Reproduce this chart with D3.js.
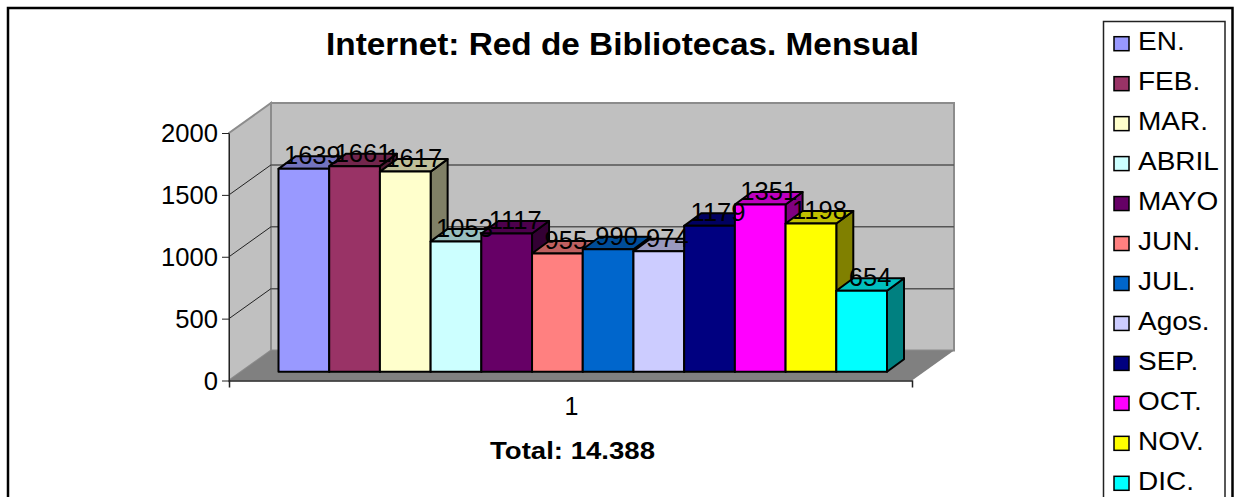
<!DOCTYPE html>
<html lang="en">
<head>
<meta charset="UTF-8">
<title>Internet: Red de Bibliotecas. Mensual</title>
<style>
  html, body { margin: 0; padding: 0; background: #fff; overflow: hidden; }
  svg { display: block; }
  text { font-family: "Liberation Sans", Arial, sans-serif; fill: #000; }
</style>
</head>
<body>
<svg width="1237" height="497"></svg>

<script src="https://d3js.org/d3.v7.min.js"></script>
<script>
  var months = ["EN.", "FEB.", "MAR.", "ABRIL", "MAYO", "JUN.", "JUL.", "Agos.", "SEP.", "OCT.", "NOV.", "DIC."];
  var visits = [1639, 1661, 1617, 1053, 1117, 955, 990, 974, 1179, 1351, 1198, 654];
  var colors = ["#9999ff", "#993366", "#ffffcc", "#ccffff", "#660066", "#ff8080", "#0066cc", "#ccccff", "#000080", "#ff00ff", "#ffff00", "#00ffff"];
  var yTicks = [0, 500, 1000, 1500, 2000];
  var categories = ["1"];

  var svg = d3.select("svg");

  var y = d3.scaleLinear().domain([0, 2000]).range([380.5, 133]);
  var xCat = d3.scaleBand().domain(categories).range([229, 912]);
  var xBar = d3.scaleBand().domain(months).range([278.5, 887]);
  var legendY = d3.scalePoint().domain(months).range([43.7, 483.3]);

  // depth of the 3d box and of the bars, in pixels
  var depth = {x: 42, y: -30};
  var barShift = {x: 12.5, y: -8.8};
  var barDepth = {x: 17, y: -12.5};

  var poly = function(pts) { return pts.map(function(p) { return p.join(","); }).join(" "); };

  // outer frame
  svg.append("rect").attr("x", 8).attr("y", 8).attr("width", 1224.5).attr("height", 520)
    .attr("fill", "#fff").attr("stroke", "#000").attr("stroke-width", 2.5);

  var x0 = xCat.range()[0], x1 = xCat.range()[1];
  var y0 = y(0), yTop = y(2000);

  // walls and floor
  var box = svg.append("g");
  box.append("polygon")
    .attr("points", poly([[x0 + depth.x, y0 + depth.y], [x1 + depth.x, y0 + depth.y], [x1 + depth.x, yTop + depth.y], [x0 + depth.x, yTop + depth.y]]))
    .attr("fill", "#c0c0c0").attr("stroke", "#8c8c8c").attr("stroke-width", 2);
  box.append("polygon")
    .attr("points", poly([[x0, y0], [x0 + depth.x, y0 + depth.y], [x0 + depth.x, yTop + depth.y], [x0, yTop]]))
    .attr("fill", "#c0c0c0").attr("stroke", "#8c8c8c").attr("stroke-width", 2);
  box.append("polygon")
    .attr("points", poly([[x0, y0], [x1, y0], [x1 + depth.x, y0 + depth.y], [x0 + depth.x, y0 + depth.y]]))
    .attr("fill", "#808080");

  // gridlines
  var grid = yTicks.filter(function(d) { return d > 0 && d < 2000; });
  box.selectAll(".grid-back").data(grid).enter().append("line")
    .attr("x1", x0 + depth.x).attr("x2", x1 + depth.x)
    .attr("y1", function(d) { return y(d) + depth.y; })
    .attr("y2", function(d) { return y(d) + depth.y; })
    .attr("stroke", "#555").attr("stroke-width", 1.5);
  box.selectAll(".grid-side").data(grid).enter().append("line")
    .attr("x1", x0).attr("x2", x0 + depth.x)
    .attr("y1", function(d) { return y(d); })
    .attr("y2", function(d) { return y(d) + depth.y; })
    .attr("stroke", "#222").attr("stroke-width", 1);

  // axes
  var yAxis = svg.append("g")
    .attr("transform", "translate(" + x0 + ",0)")
    .call(d3.axisLeft(y).tickValues(yTicks).tickFormat(d3.format("d")).tickSize(7).tickPadding(4).tickSizeOuter(0));
  yAxis.selectAll("text").style("font-size", "25.6px").attr("dy", "0.34em");
  yAxis.selectAll("line").attr("stroke", "#222");
  yAxis.select(".domain").attr("stroke", "#222");

  var xAxis = svg.append("g")
    .attr("transform", "translate(0," + y0 + ")")
    .call(d3.axisBottom(xCat).tickSize(0).tickPadding(17).tickSizeOuter(7));
  xAxis.selectAll("text").style("font-size", "25px").attr("dx", "1");
  xAxis.select(".domain").attr("stroke", "#222").attr("stroke-width", 1.5);

  // bars, left to right so each one hides the side of the one before
  var shade = function(c, k) {
    var r = d3.rgb(c);
    return d3.rgb(r.r * k, r.g * k, r.b * k).formatHex();
  };
  var data = months.map(function(m, i) { return {month: m, value: visits[i], color: colors[i]}; });

  var bars = svg.selectAll(".bar").data(data).enter().append("g").attr("class", "bar");
  var barBase = function(d) {
    var l = xBar(d.month) , r = l + xBar.bandwidth();
    var b = y(0) + barShift.y, t = y(d.value) + barShift.y;
    return {l: l, r: r, b: b, t: t};
  };
  bars.append("polygon").attr("fill", function(d) { return shade(d.color, 0.5); })
    .attr("points", function(d) {
      var q = barBase(d);
      return poly([[q.r, q.b], [q.r + barDepth.x, q.b + barDepth.y], [q.r + barDepth.x, q.t + barDepth.y], [q.r, q.t]]);
    });
  bars.append("polygon").attr("fill", function(d) { return shade(d.color, 0.75); })
    .attr("points", function(d) {
      var q = barBase(d);
      return poly([[q.l, q.t], [q.r, q.t], [q.r + barDepth.x, q.t + barDepth.y], [q.l + barDepth.x, q.t + barDepth.y]]);
    });
  bars.append("rect")
    .attr("x", function(d) { return barBase(d).l; })
    .attr("y", function(d) { return barBase(d).t; })
    .attr("width", xBar.bandwidth())
    .attr("height", function(d) { var q = barBase(d); return q.b - q.t; })
    .attr("fill", function(d) { return d.color; });
  bars.selectAll("polygon, rect")
    .attr("stroke", "#000").attr("stroke-width", 2).attr("stroke-linejoin", "round");

  // value labels sit on top of everything
  svg.selectAll(".value").data(data).enter().append("text")
    .attr("class", "value")
    .attr("x", function(d) { return xBar(d.month) + xBar.bandwidth() / 2 + 8.5; })
    .attr("y", function(d) { return y(d.value) + barShift.y - 4.5; })
    .attr("text-anchor", "middle")
    .style("font-size", "25.5px")
    .text(function(d) { return d.value; });

  // titles, the original type is a bit wider than the font
  svg.append("text").attr("x", 622.5).attr("y", 55).attr("text-anchor", "middle")
    .attr("textLength", 593).attr("lengthAdjust", "spacingAndGlyphs")
    .style("font-size", "30.5px").style("font-weight", "bold")
    .text("Internet: Red de Bibliotecas. Mensual");
  svg.append("text").attr("x", 572.5).attr("y", 459).attr("text-anchor", "middle")
    .attr("textLength", 165).attr("lengthAdjust", "spacingAndGlyphs")
    .style("font-size", "24px").style("font-weight", "bold")
    .text("Total: 14.388");

  // legend
  svg.append("rect").attr("x", 1103.5).attr("y", 21.5).attr("width", 121.5).attr("height", 500)
    .attr("fill", "#fff").attr("stroke", "#222").attr("stroke-width", 1.5);
  var legend = svg.selectAll(".legend").data(data).enter().append("g")
    .attr("class", "legend")
    .attr("transform", function(d) { return "translate(1114," + legendY(d.month) + ")"; });
  legend.append("rect").attr("x", 0).attr("y", -7).attr("width", 15).attr("height", 14)
    .attr("fill", function(d) { return d.color; })
    .attr("stroke", "#000").attr("stroke-width", 1.5);
  legend.append("text")
    .attr("transform", "translate(24,6.5) scale(1.12,1)")
    .style("font-size", "25px")
    .text(function(d) { return d.month; });
</script>
</body>
</html>
